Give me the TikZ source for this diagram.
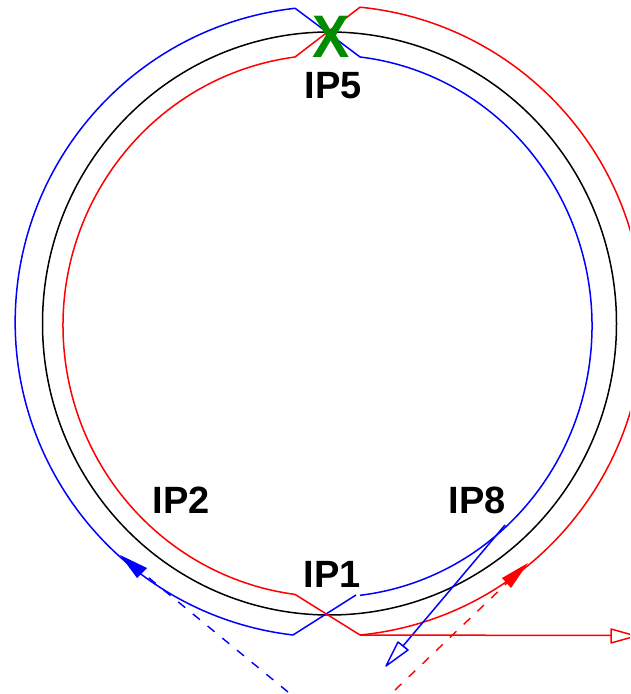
\documentclass[tikz,border=0pt]{standalone}
\usepackage{fontspec}
\setmainfont{Liberation Sans}
\definecolor{ringblue}{RGB}{0,0,255}
\definecolor{ringred}{RGB}{255,0,0}
\definecolor{xgreen}{RGB}{0,140,0}
\tikzset{
  beam/.style={line width=1.5pt,line join=round},
  bluebeam/.style={beam,draw=ringblue},
  redbeam/.style={beam,draw=ringred},
  injdash/.style={line width=1.4pt,dash pattern=on 9pt off 10pt},
  iplabel/.style={font=\fontsize{38}{38}\selectfont\bfseries,text=black,inner sep=0pt},
}
\begin{document}
\begin{tikzpicture}[x=1pt,y=1pt]
\useasboundingbox (0,0) rectangle (630,694);
\clip (0,0) rectangle (630,694);
% named points (y measured up from the bottom of the page)
\coordinate (ctr) at (329.5,370.5);
\coordinate (bi1) at (360,637);
\coordinate (bo2) at (356,99);
\coordinate (ri1) at (295,637);
\coordinate (ro2) at (360,59);
\coordinate (bx) at (505,169);
\coordinate (bxb) at (403,48);
\coordinate (rxb) at (611,58.5);
\coordinate (bd0) at (288,2);
\coordinate (bd1) at (143,121);
\coordinate (rd0) at (395,4);
\coordinate (rd1) at (507,111);
% black ring
\draw[line width=1.5pt,black] (ctr) ellipse [x radius=287,y radius=291.5];
% blue beam
\draw[bluebeam] (bo2) -- (293,59) arc[start angle=263.3,end angle=96.3,x radius=314.5,y radius=315.4] -- (bi1)
  arc[start angle=83.33,end angle=-83.33,x radius=262.5,y radius=271];
% red beam
\draw[redbeam] (ro2) arc[start angle=-84.43,end angle=84.43,x radius=314,y radius=315.4] -- (ri1)
  arc[start angle=97.44,end angle=262.56,x radius=266.5,y radius=271] -- (ro2);
% extraction lines with open heads
\draw[bluebeam] (bx) -- (bxb);
\draw[bluebeam,fill=white] (398,52) -- (408,44) -- (386,28) -- cycle;
\draw[redbeam] (ro2) -- (rxb);
\draw[redbeam,fill=white] (611,65) -- (611,51) -- (636,58) -- cycle;
% injection lines with filled heads
\draw[ringblue,injdash] (bd0) -- (bd1);
\fill[ringblue] (120,139) -- (147,126) -- (137,116) -- cycle;
\draw[ringred,injdash] (rd0) -- (rd1);
\fill[ringred] (528,131) -- (502,116) -- (511,106) -- cycle;
% labels
\node[iplabel] (ip5) at (333,608) {IP5};
\node[iplabel] (ip1) at (332,120) {IP1};
\node[iplabel] (ip2) at (181,194) {IP2};
\node[iplabel] (ip8) at (477.5,194) {IP8};
\node[font=\fontsize{60}{60}\selectfont\bfseries,text=xgreen,inner sep=0pt,xscale=0.93] (xmark) at (331,657) {X};
\end{tikzpicture}
\end{document}
